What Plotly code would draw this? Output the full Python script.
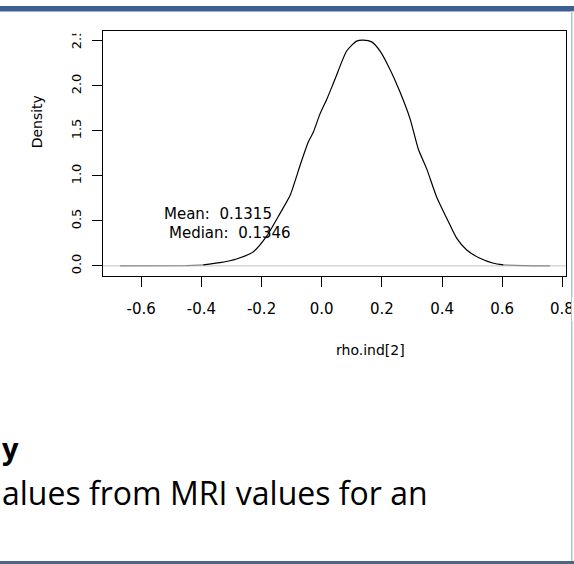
import plotly.graph_objects as go

W, H = 574, 564

# density curve
curve_x = [-0.394, -0.338, -0.283, -0.227, -0.183, -0.139, -0.105, -0.072, -0.045, -0.028,
           -0.006, 0.017, 0.044, 0.083, 0.116, 0.138, 0.166, 0.194, 0.227, 0.261,
           0.294, 0.321, 0.349, 0.382, 0.416, 0.449, 0.482, 0.526, 0.571, 0.604]
curve_y = [0.011, 0.036, 0.077, 0.158, 0.330, 0.581, 0.785, 1.116, 1.373, 1.484,
           1.686, 1.852, 2.073, 2.387, 2.497, 2.508, 2.489, 2.387, 2.183, 1.926,
           1.631, 1.299, 1.078, 0.766, 0.526, 0.305, 0.177, 0.084, 0.029, 0.011]
# near-zero tails of the curve (rendered grey-ish over the zero line)
tail_left_x = [-0.670, -0.550, -0.450, -0.394]
tail_left_y = [0.000, 0.001, 0.004, 0.011]
tail_right_x = [0.604, 0.650, 0.700, 0.759]
tail_right_y = [0.011, 0.004, 0.001, 0.000]

x_ticks = [-0.6, -0.4, -0.2, 0.0, 0.2, 0.4, 0.6, 0.8]
x_tick_labels = ["-0.6", "-0.4", "-0.2", "0.0", "0.2", "0.4", "0.6", "0.8"]
y_ticks = [0.0, 0.5, 1.0, 1.5, 2.0, 2.5]
y_tick_labels = ["0.0", "0.5", "1.0", "1.5", "2.0", "2.5"]

x_title = "rho.ind[2]"
y_title = "Density"
mean_text = "Mean:  0.1315"
median_text = "Median:  0.1346"
mean_pos = (-0.532, 0.581)
median_pos = (-0.515, 0.360)
heading_tail = "y"
body_text = "alues from MRI values for an"

BORDER = "#b3c1d3"

def px(x):
    return x / W

def py(y):
    return 1 - y / H

fig = go.Figure()
fig.add_trace(go.Scatter(x=tail_left_x, y=tail_left_y, mode="lines",
                         line=dict(color="#8a8a8a", width=1.2), showlegend=False, hoverinfo="skip"))
fig.add_trace(go.Scatter(x=tail_right_x, y=tail_right_y, mode="lines",
                         line=dict(color="#8a8a8a", width=1.2), showlegend=False, hoverinfo="skip"))
fig.add_trace(go.Scatter(x=curve_x, y=curve_y, mode="lines",
                         line=dict(color="black", width=1.2, shape="spline", smoothing=0.6),
                         showlegend=False))

tickfont = dict(family="DejaVu Sans", size=15, color="black")

# the last x label runs past the slide crop; it is drawn as an annotation below
shown_x_labels = x_tick_labels[:-1] + [""]

fig.update_layout(
    width=W, height=H,
    margin=dict(l=0, r=0, t=0, b=0),
    paper_bgcolor="white", plot_bgcolor="white",
    xaxis=dict(domain=[px(102.7), px(566)], range=[-0.728, 0.812],
               tickvals=x_ticks, ticktext=shown_x_labels, ticks="outside", ticklen=10,
               tickwidth=1, tickcolor="black", showline=True, linecolor="black",
               linewidth=1.2, mirror=True, showgrid=False, zeroline=False,
               tickfont=tickfont, ticklabelstandoff=9),
    yaxis=dict(domain=[py(274.3), py(28.3)], range=[-0.1105, 2.608],
               tickvals=y_ticks, ticktext=y_tick_labels, ticks="outside", ticklen=10,
               tickwidth=1, tickcolor="black", showline=True, linecolor="black",
               linewidth=1.2, mirror=True, showgrid=False, zeroline=False,
               tickangle=-90, tickfont=dict(family="DejaVu Sans", size=13, color="black"),
               ticklabelstandoff=5),
)

shapes = [
    # zero line
    dict(type="line", xref="paper", yref="y", x0=px(102.7), x1=px(566), y0=0, y1=0,
         line=dict(color="#cfcfcf", width=1.2), layer="below"),
    # crop of the pasted picture at the top (cuts the top of the "2.5" label)
    dict(type="rect", xref="paper", yref="paper", x0=0, x1=px(95), y0=py(31), y1=py(8.5),
         fillcolor="white", line=dict(width=0), layer="above"),
    # slide top band
    dict(type="rect", xref="paper", yref="paper", x0=0, x1=1, y0=py(8.5), y1=py(3),
         fillcolor="#3c6090", line=dict(width=0), layer="above"),
    # right crop + border
    dict(type="rect", xref="paper", yref="paper", x0=px(571), x1=1, y0=py(561), y1=py(8.5),
         fillcolor="white", line=dict(width=0), layer="above"),
    dict(type="line", xref="paper", yref="paper", x0=px(571.8), x1=px(571.8), y0=py(561), y1=py(8.5),
         line=dict(color=BORDER, width=1.5), layer="above"),
    # slide bottom band
    dict(type="rect", xref="paper", yref="paper", x0=0, x1=1, y0=0, y1=py(561),
         fillcolor="#506582", line=dict(width=0), layer="above"),
]
fig.update_layout(shapes=shapes)

annotations = [
    dict(text=x_tick_labels[-1], xref="x", yref="paper", x=x_ticks[-1], y=py(308),
         showarrow=False, font=tickfont, xanchor="center", yanchor="middle"),
    # slide edge cutting the last x label
    dict(text=" ", xref="paper", yref="paper", x=px(571), y=py(308), xanchor="left",
         yanchor="middle", width=3, height=24, borderpad=0, borderwidth=0,
         bgcolor="white", showarrow=False, font=dict(size=4)),
    dict(text=" ", xref="paper", yref="paper", x=px(571.1), y=py(308), xanchor="left",
         yanchor="middle", width=1, height=24, borderpad=0, borderwidth=0,
         bgcolor=BORDER, showarrow=False, font=dict(size=4)),
    dict(text=y_title, xref="paper", yref="paper", x=px(37), y=py(120), textangle=-90,
         showarrow=False, font=dict(family="DejaVu Sans", size=14, color="black"),
         xanchor="center", yanchor="middle"),
    dict(text=x_title, xref="paper", yref="paper", x=px(370), y=py(349),
         showarrow=False, font=dict(family="DejaVu Sans", size=14, color="black"),
         xanchor="center", yanchor="middle"),
    dict(text=mean_text, xref="x", yref="y", x=mean_pos[0], y=mean_pos[1],
         showarrow=False, font=tickfont, xanchor="left", yanchor="middle"),
    dict(text=median_text, xref="x", yref="y", x=median_pos[0], y=median_pos[1],
         showarrow=False, font=tickfont, xanchor="left", yanchor="middle"),
    dict(text="<b>" + heading_tail + "</b>", xref="paper", yref="paper", x=0, y=py(447),
         showarrow=False, font=dict(family="Open Sans", size=29, color="black"),
         xanchor="left", yanchor="middle"),
    dict(text=body_text, xref="paper", yref="paper", x=0, y=py(492),
         showarrow=False, font=dict(family="Open Sans", size=32, color="black"),
         xanchor="left", yanchor="middle"),
]
fig.update_layout(annotations=annotations)

fig.write_html("out.html")
